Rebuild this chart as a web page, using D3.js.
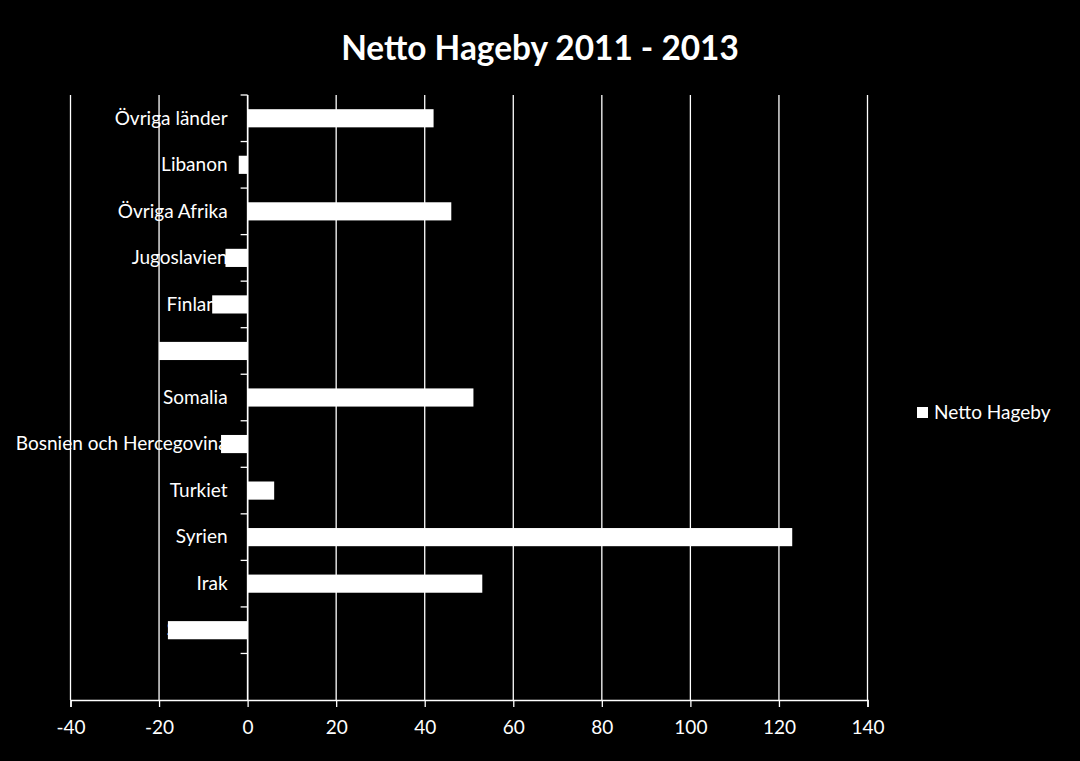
<!DOCTYPE html>
<html>
<head>
<meta charset="utf-8">
<script src="https://cdn.jsdelivr.net/npm/d3@7"></script>
<style>
  html, body { margin: 0; padding: 0; background: #000; }
  svg { display: block; }
</style>
</head>
<body>
<svg id="chart" width="1080" height="761"></svg>
<script>
// ---- data (top to bottom, as shown) ----
const categories = ["Övriga länder", "Libanon", "Övriga Afrika", "Jugoslavien", "Finland", "Polen",
  "Somalia", "Bosnien och Hercegovina", "Turkiet", "Syrien", "Irak", "Sverige", ""];
const values = [42, -2, 46, -5, -8, -20, 51, -6, 6, 123, 53, -18, 0];
const xTicks = [-40, -20, 0, 20, 40, 60, 80, 100, 120, 140];
const seriesName = "Netto Hageby";
const titleText = "Netto Hageby 2011 - 2013";

const FONT = "Lato, 'Open Sans', sans-serif";
const W = 1080, H = 761;
const m = { left: 70.5, right: W - 867.5, top: 95, bottom: H - 700 };

const svg = d3.select("#chart");
svg.append("rect").attr("width", W).attr("height", H).attr("fill", "#000");

// fit font sizes to reference text widths
function fitSize(text, target, weight, base) {
  const t = svg.append("text").attr("font-family", FONT).attr("font-weight", weight)
    .attr("font-size", base).text(text);
  const w = t.node().getComputedTextLength();
  t.remove();
  return base * target / w;
}
const fs = fitSize("Bosnien och Hercegovina", 212, "normal", 20);
const tfs = fitSize(titleText, 398, "bold", 36);

const x = d3.scaleLinear().domain([-40, 140]).range([m.left, W - m.right]);
const y = d3.scaleBand().domain(categories.map((c, i) => i))
  .range([m.top, H - m.bottom]).paddingInner(0.61).paddingOuter(0.305);
const step = y.step();

// gridlines
svg.append("g").selectAll("line").data(xTicks).join("line")
  .attr("x1", d => x(d)).attr("x2", d => x(d))
  .attr("y1", m.top).attr("y2", H - m.bottom)
  .attr("stroke", "#fff").attr("stroke-width", 1.3);

// x axis
const xAxis = svg.append("g").attr("transform", `translate(0,${H - m.bottom})`)
  .call(d3.axisBottom(x).tickValues(xTicks).tickSize(7).tickPadding(13).tickFormat(d => String(d)));
xAxis.select(".domain").attr("stroke", "#fff").attr("stroke-width", 1.5);
xAxis.selectAll(".tick line").attr("stroke", "#fff").attr("stroke-width", 1.3);
xAxis.selectAll(".tick text").attr("fill", "#fff").attr("font-family", FONT)
  .attr("font-size", fs).attr("dy", "0.71em");

// y axis at zero with ticks at band boundaries
const yg = svg.append("g");
yg.append("line").attr("x1", x(0)).attr("x2", x(0)).attr("y1", m.top).attr("y2", H - m.bottom)
  .attr("stroke", "#fff").attr("stroke-width", 1.5);
const boundaries = categories.map((c, i) => y(i) - step * y.paddingInner() / 2);
yg.selectAll("line.tk").data(boundaries).join("line").attr("class", "tk")
  .attr("x1", x(0) - 7).attr("x2", x(0)).attr("y1", d => d).attr("y2", d => d)
  .attr("stroke", "#fff").attr("stroke-width", 1.3);

// category labels (drawn before bars so bars cover them)
svg.append("g").selectAll("text").data(categories).join("text")
  .attr("x", x(0) - 20)
  .attr("y", (d, i) => y(i) + y.bandwidth() / 2)
  .attr("dy", "0.33em")
  .attr("text-anchor", "end")
  .attr("fill", "#fff").attr("font-family", FONT).attr("font-size", fs)
  .text(d => d);

// bars
svg.append("g").selectAll("rect").data(values).join("rect")
  .attr("x", d => x(Math.min(0, d)))
  .attr("width", d => Math.abs(x(d) - x(0)))
  .attr("y", (d, i) => y(i))
  .attr("height", y.bandwidth())
  .attr("fill", "#fff");

// title
svg.append("text").attr("x", 540).attr("y", 60).attr("text-anchor", "middle")
  .attr("fill", "#fff").attr("font-family", FONT).attr("font-weight", "bold")
  .attr("font-size", tfs).text(titleText);

// legend
const lg = svg.append("g").attr("transform", "translate(917,407)");
lg.append("rect").attr("width", 11).attr("height", 11).attr("fill", "#fff");
lg.append("text").attr("x", 17).attr("y", 12).attr("fill", "#fff")
  .attr("font-family", FONT).attr("font-size", fs).text(seriesName);
</script>
</body>
</html>
